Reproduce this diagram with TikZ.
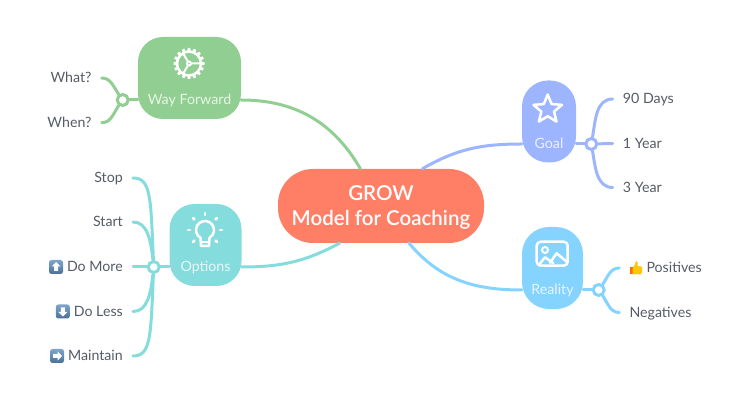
\documentclass[tikz,border=0pt]{standalone}
\usepackage{fontspec}
\setmainfont{Lato}
\newfontfamily\rootfont{Lato Semibold}
\usetikzlibrary{shapes.geometric}

\definecolor{rootcol}{HTML}{FF7F66}
\definecolor{waycol}{HTML}{90CE92}
\definecolor{optcol}{HTML}{85DCDC}
\definecolor{goalcol}{HTML}{9DB5FF}
\definecolor{realcol}{HTML}{85D3FF}
\definecolor{leafcol}{HTML}{555B66}
\definecolor{icontop}{HTML}{7DA6CC}
\definecolor{iconbot}{HTML}{4C7098}

\tikzset{
	rootbox/.style={fill=rootcol,text=white,font=\fontsize{20.5}{25}\rootfont,align=center,minimum width=206pt,minimum height=74pt,rounded corners=35pt,inner sep=0pt},
	branchbox/.style={minimum height=82pt,rounded corners=25pt,inner sep=0pt},
	branchlabel/.style={text=white,text opacity=0.8,font=\fontsize{14.2}{16}\selectfont,inner sep=0pt,text height=10pt,text depth=0pt},
	dot/.style={circle,draw,fill=white,line width=3pt,minimum size=11pt,inner sep=0pt},
	leaf/.style={text=leafcol,font=\fontsize{14.2}{16}\selectfont,inner ysep=0pt,inner xsep=10pt,text height=10pt,text depth=0pt},
	link/.style={line width=3pt,line cap=round},
	icon/.style={white,line width=2.5pt,line cap=round,line join=round}
}

\newcommand{\arrowicon}[1]{\tikz[x=1pt,y=1pt,baseline=-5pt]{
	\shade[top color=icontop,bottom color=iconbot,rounded corners=2.5pt] (-7,-7) rectangle (7,7);
	\fill[white,rotate=#1] (0,5) -- (-4.5,0.5) -- (-2,0.5) -- (-2,-4) -- (2,-4) -- (2,0.5) -- (4.5,0.5) -- cycle;}}
\newcommand{\thumbicon}{\tikz[x=1pt,y=1pt,baseline=-5pt]{
	\fill[orange!85!red] (-6.5,-6) rectangle (-3.5,0.5);
	\fill[yellow!60!orange,rounded corners=1.2pt] (-3.5,-6.5) -- (5.5,-6.5) -- (6.5,1.5) -- (1.5,1.5) -- (1.5,7) -- (-0.5,7) -- (-1,3) -- (-3.5,0.5) -- cycle;}}

\begin{document}
\begin{tikzpicture}[x=1pt,y=1pt]
	\useasboundingbox (0,0) rectangle (750,412);
	
	\node[rootbox] (root) at (381,206) {\rule{0pt}{18pt}GROW\\Model for Coaching};
	
	% boxes, the label is as wide as its box so links start on the edge
	\node[branchbox,fill=waycol,minimum width=103pt] (waybox) at (189.5,334) {};
	\node[branchlabel,minimum width=103pt] (way) at (189.5,312) {Way Forward};
	\node[branchbox,fill=optcol,minimum width=72pt] (optbox) at (205.5,167) {};
	\node[branchlabel,minimum width=72pt] (opt) at (205.5,145) {Options};
	\node[branchbox,fill=goalcol,minimum width=54pt,rounded corners=26pt] (goalbox) at (549,290.5) {};
	\node[branchlabel,minimum width=54pt] (goal) at (549,268) {Goal};
	\node[branchbox,fill=realcol,minimum width=61pt,rounded corners=27pt] (realbox) at (552.5,144) {};
	\node[branchlabel,minimum width=61pt] (real) at (552.5,122) {Reality};
	
	\draw[link,waycol] (way.east) to[out=0,in=120] (root.119.6);
	\draw[link,optcol] (opt.east) to[out=0,in=-152] (root.222);
	\draw[link,goalcol] (goal.west) to[out=180,in=30] (root.42.8);
	\draw[link,realcol] (real.west) to[out=180,in=-50] (root.-53.9);
	
	% way forward
	\node[dot,draw=waycol] (waydot) at (122.7,312) {};
	\node[leaf,anchor=east] (what) at (101.7,334) {What?};
	\node[leaf,anchor=east] (when) at (101.7,289.3) {When?};
	\draw[link,waycol] (waydot) -- (way.west);
	\draw[link,waycol] (waydot) to[out=125,in=0] (what.east);
	\draw[link,waycol] (waydot) to[out=-125,in=0] (when.east);
	
	% options
	\node[dot,draw=optcol] (optdot) at (153.7,145) {};
	\node[leaf,anchor=east] (stop) at (133,234) {Stop};
	\node[leaf,anchor=east] (start) at (133,190) {Start};
	\node[leaf,anchor=east] (more) at (133,145) {\arrowicon{0}\hspace{4pt}Do More};
	\node[leaf,anchor=east] (less) at (133,100.5) {\arrowicon{180}\hspace{4pt}Do Less};
	\node[leaf,anchor=east] (keep) at (133,56) {\arrowicon{-90}\hspace{4pt}Maintain};
	\draw[link,optcol] (optdot) -- (opt.west);
	\draw[link,optcol] (optdot) .. controls +(-3,70) and +(18,0) .. (stop.east);
	\draw[link,optcol] (optdot) .. controls +(-3,28) and +(14,0) .. (start.east);
	\draw[link,optcol] (optdot) -- (more.east);
	\draw[link,optcol] (optdot) .. controls +(-3,-28) and +(14,0) .. (less.east);
	\draw[link,optcol] (optdot) .. controls +(-3,-70) and +(18,0) .. (keep.east);
	
	% goal
	\node[dot,draw=goalcol] (goaldot) at (591.3,268) {};
	\node[leaf,anchor=west] (days) at (612.7,313) {90 Days};
	\node[leaf,anchor=west] (one) at (612.7,268.5) {1 Year};
	\node[leaf,anchor=west] (three) at (612.7,224.5) {3 Year};
	\draw[link,goalcol] (goaldot) -- (goal.east);
	\draw[link,goalcol] (goaldot) to[out=80,in=180] (days.west);
	\draw[link,goalcol] (goaldot) -- (one.west);
	\draw[link,goalcol] (goaldot) to[out=-80,in=180] (three.west);
	
	% reality
	\node[dot,draw=realcol] (realdot) at (598.7,122) {};
	\node[leaf,anchor=west] (pos) at (619.3,144) {\thumbicon\hspace{4pt}Positives};
	\node[leaf,anchor=west] (neg) at (619.3,99.5) {Negatives};
	\draw[link,realcol] (realdot) -- (real.east);
	\draw[link,realcol] (realdot) to[out=55,in=180] (pos.west);
	\draw[link,realcol] (realdot) to[out=-55,in=180] (neg.west);
	
	% gear
	\begin{scope}[shift={(189,348.5)}]
	\draw[icon] (0,0) circle (12);
	\foreach \a in {0,22.5,...,337.5}
	\fill[white,rotate=\a] (-2,11) -- (-1.2,15.5) -- (1.2,15.5) -- (2,11) -- cycle;
	\draw[icon,line width=2pt] (0,0) circle (2) (2,0) -- (12,0) (120:2) -- (120:12) (-120:2) -- (-120:12);
	\end{scope}
	
	% bulb
	\begin{scope}[shift={(205,182)}]
	\draw[icon] (-4.5,-7.8) arc (240:-60:9) -- (4,-16) -- (-4,-16) -- cycle;
	\draw[icon,line width=2pt] (-4,-12) -- (4,-12);
	\foreach \a in {0,45,90,135,180,225,-45}
	\draw[icon] (\a:15) -- (\a:17);
	\end{scope}
	
	% star
	\node[star,star points=5,star point ratio=2.25,draw=white,line width=2.5pt,line join=round,minimum size=30pt,inner sep=0pt] (staricon) at (547.7,302.5) {};
	
	% picture
	\draw[icon,rounded corners=4pt] (536.7,146.3) rectangle (567.7,170.3);
	\draw[icon,line width=2pt] (545,162) circle (3);
	\draw[icon] (539.3,147.7) -- (545,154.7) -- (553.3,148.7);
	\draw[icon] (550,149.3) -- (556.7,158.7) -- (566.7,150.3);
\end{tikzpicture}
\end{document}
